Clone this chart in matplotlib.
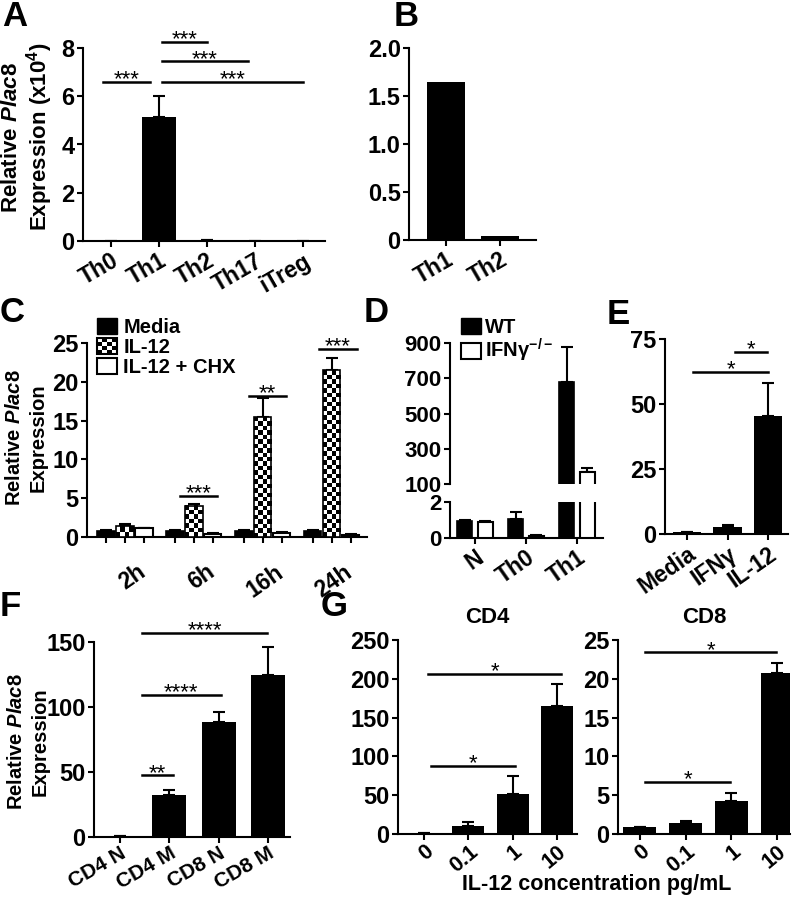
import numpy as np
import matplotlib
matplotlib.use('Agg')
import matplotlib.pyplot as plt
from matplotlib.patches import Rectangle, Patch
from matplotlib.legend_handler import HandlerBase

# ---- data ----
# A
a_cats = ['Th0', 'Th1', 'Th2', 'Th17', 'iTreg']
a_vals = [0.002, 5.15, 0.03, 0.005, 0.003]
a_err = [0.0, 0.85, 0.0, 0.0, 0.0]
# B
b_cats = ['Th1', 'Th2']
b_vals = [1.65, 0.045]
# C
c_times = ['2h', '6h', '16h', '24h']
c_media = [0.8, 0.8, 0.8, 0.8]
c_media_err = [0.05, 0.05, 0.05, 0.05]
c_il12 = [1.4, 4.0, 15.4, 21.5]
c_il12_err = [0.25, 0.3, 2.5, 1.6]
c_chx = [1.1, 0.4, 0.5, 0.3]
c_chx_err = [0.1, 0.1, 0.1, 0.05]
# D
d_cats = ['N', 'Th0', 'Th1']
d_wt = [0.95, 1.05, 680]
d_wt_err = [0.03, 0.4, 200]
d_ko = [0.9, 0.1, 170]
d_ko_err = [0.03, 0.08, 20]
# E
e_cats = ['Media', 'IFNγ', 'IL-12']
e_vals = [0.8, 2.7, 45.5]
e_err = [0.1, 0.6, 12.5]
# F
f_cats = ['CD4 N', 'CD4 M', 'CD8 N', 'CD8 M']
f_vals = [1.0, 32, 88.5, 125]
f_err = [0.0, 4.5, 8.0, 21]
# G
g_cats = ['0', '0.1', '1', '10']
g_cd4 = [1.0, 10, 52, 165]
g_cd4_err = [0.0, 6, 23, 28]
g_cd8 = [0.9, 1.4, 4.2, 20.7]
g_cd8_err = [0.05, 0.3, 1.1, 1.4]

plt.rcParams['font.family'] = 'Liberation Sans'
plt.rcParams['font.weight'] = 'bold'
plt.rcParams['mathtext.fontset'] = 'custom'
plt.rcParams['mathtext.rm'] = 'Liberation Sans:bold'
plt.rcParams['mathtext.bf'] = 'Liberation Sans:bold'
plt.rcParams['mathtext.it'] = 'Liberation Sans:bold:italic'
plt.rcParams['mathtext.default'] = 'bf'
plt.rcParams['axes.linewidth'] = 1.5
plt.rcParams['xtick.major.width'] = 1.5
plt.rcParams['ytick.major.width'] = 1.5
plt.rcParams['xtick.major.size'] = 4
plt.rcParams['ytick.major.size'] = 4
plt.rcParams['xtick.labelsize'] = 16.5
plt.rcParams['ytick.labelsize'] = 17

W, H = 800, 897
fig = plt.figure(figsize=(8, 8.97), dpi=100)


def box(x0, x1, ytop, ybot):
    return [x0 / W, 1 - ybot / H, (x1 - x0) / W, (ybot - ytop) / H]


def style(ax, cats=None, rot=35, fs=16.5):
    ax.spines['top'].set_visible(False)
    ax.spines['right'].set_visible(False)
    ax.tick_params(direction='out', pad=2)
    if cats is not None:
        ax.set_xticks(range(len(cats)))
        ax.set_xticklabels(cats, rotation=rot, ha='right', rotation_mode='anchor',
                           fontsize=fs)


def errs(ax, x, v, e):
    ax.errorbar(x, v, yerr=[np.zeros(len(e)), e], fmt='none', ecolor='black',
                elinewidth=1.5, capsize=4, capthick=1.5, zorder=2)


def sig(ax, x0, x1, y, txt, fs=16):
    ax.plot([x0, x1], [y, y], color='black', lw=1.8, clip_on=False)
    ax.annotate(txt, ((x0 + x1) / 2, y), xytext=(0, -2.5), textcoords='offset points',
                ha='center', va='baseline', fontsize=fs, fontweight='normal',
                annotation_clip=False)


def checker_bar(ax, x, w, h, cell=4.5):
    p0 = ax.transData.transform((x - w / 2, 0))
    p1 = ax.transData.transform((x + w / 2, h))
    nx = max(1, int(round(abs(p1[0] - p0[0]) / cell)))
    ny = max(1, int(round(abs(p1[1] - p0[1]) / cell)))
    arr = np.indices((ny, nx)).sum(axis=0) % 2
    ax.imshow(arr, extent=(x - w / 2, x + w / 2, 0, h), cmap='gray', origin='lower',
              interpolation='nearest', aspect='auto', zorder=3)
    ax.bar(x, h, w, fill=False, edgecolor='black', lw=1.2, zorder=4)


class CheckerHandler(HandlerBase):
    def create_artists(self, legend, orig, xd, yd, w, h, fs, trans):
        arts = [Rectangle((-xd, -yd), w, h, fc='white', ec='black', lw=1.5, transform=trans)]
        n = 4
        cw, ch = w / n, h / n
        for i in range(n):
            for j in range(n):
                if (i + j) % 2 == 0:
                    arts.append(Rectangle((-xd + i * cw, -yd + j * ch), cw, ch,
                                          fc='black', ec='none', transform=trans))
        return arts


def letter(x, y, s):
    fig.text(x / W, 1 - y / H, s, fontsize=25, ha='left', va='top')


def ylab(x, y, s, fs=14.5, ls=1.3):
    fig.text(x / W, 1 - y / H, s, fontsize=fs, rotation=90, ha='center', va='center',
             multialignment='center', linespacing=ls)


# ---- A ----
ax = fig.add_axes(box(83, 325, 48, 241))
xa = np.arange(len(a_cats))
ax.bar(xa, a_vals, 0.7, color='black', zorder=3)
errs(ax, xa, a_vals, a_err)
ax.set_xlim(-0.58, 4.45)
ax.set_ylim(0, 8)
ax.set_yticks([0, 2, 4, 6, 8])
style(ax, a_cats, rot=30)
sig(ax, -0.17, 0.81, 6.6, '***')
sig(ax, 1.06, 2.0, 8.25, '***')
sig(ax, 1.06, 2.85, 7.45, '***')
sig(ax, 1.06, 4.0, 6.6, '***')
ylab(28, 137, 'Relative $\\mathit{Plac8}$\nExpression (x10$^{4}$)', fs=16, ls=1.05)
letter(2, 0, 'A')

# ---- B ----
ax = fig.add_axes(box(409, 536, 48, 240))
xb = np.arange(len(b_cats))
ax.bar(xb, b_vals, 0.7, color='black', zorder=3)
ax.set_xlim(-0.685, 1.667)
ax.set_ylim(0, 2)
ax.set_yticks([0, 0.5, 1.0, 1.5, 2.0])
ax.set_yticklabels(['0', '0.5', '1.0', '1.5', '2.0'])
style(ax, b_cats, rot=30)
letter(394, 0, 'B')

# ---- C ----
ax = fig.add_axes(box(87, 367, 343, 537))
xc = np.arange(len(c_times))
ax.set_xlim(-0.55, 3.51)
ax.set_ylim(0, 25)
off, bw = 0.275, 0.25
ax.bar(xc - off, c_media, bw, color='black', edgecolor='black', lw=1.2, zorder=3)
for x, v in zip(xc, c_il12):
    checker_bar(ax, x, bw, v)
ax.bar(xc + off, c_chx, bw, color='white', edgecolor='black', lw=1.5, zorder=3)
errs(ax, xc - off, c_media, c_media_err)
errs(ax, xc, c_il12, c_il12_err)
errs(ax, xc + off, c_chx, c_chx_err)
ax.set_xlim(-0.55, 3.51)
ax.set_ylim(0, 25)
ax.set_xticks(np.concatenate([xc - off, xc, xc + off]))
ax.set_xticklabels([''] * 12)
for x, t in zip(xc, c_times):
    ax.text(x + 0.17, -3.0, t, rotation=35, ha='right', va='top', rotation_mode='anchor',
            fontsize=16.5)
ax.set_yticks([0, 5, 10, 15, 20, 25])
style(ax)
sig(ax, 0.8, 1.34, 5.3, '***')
sig(ax, 1.8, 2.34, 18.2, '**')
sig(ax, 2.81, 3.36, 24.2, '***')
hl = [Patch(fc='black', ec='black'), Patch(fc='white', ec='black'),
      Patch(fc='white', ec='black', lw=1.5)]
chk = hl[1]
ax.legend(hl, ['Media', 'IL-12', 'IL-12 + CHX'], loc='upper left',
          bbox_to_anchor=(97 / W, 1 - 318 / H), bbox_transform=fig.transFigure,
          frameon=False, fontsize=14.5, handlelength=1.0, handleheight=0.78,
          handletextpad=0.3, labelspacing=0.05, borderpad=0, borderaxespad=0,
          handler_map={chk: CheckerHandler()})
ylab(26, 438, 'Relative $\\mathit{Plac8}$\nExpression')
letter(0, 296, 'C')

# ---- D ----
axt = fig.add_axes(box(450, 603, 343, 484))
axb = fig.add_axes(box(450, 603, 502, 538))
xd = np.arange(len(d_cats))
for a in (axt, axb):
    a.bar(xd - 0.2, d_wt, 0.29, color='black', edgecolor='black', lw=1.2, zorder=3)
    a.bar(xd + 0.2, d_ko, 0.29, color='white', edgecolor='black', lw=1.5, zorder=3)
    errs(a, xd - 0.2, d_wt, d_wt_err)
    errs(a, xd + 0.2, d_ko, d_ko_err)
    a.set_xlim(-0.49, 2.51)
    a.spines['top'].set_visible(False)
    a.spines['right'].set_visible(False)
    a.tick_params(direction='out', pad=2, labelsize=16)
axt.set_ylim(100, 900)
axt.set_yticks([100, 300, 500, 700, 900])
axt.spines['bottom'].set_visible(False)
axt.set_xticks([])
axb.set_ylim(0, 2)
axb.set_yticks([0, 2])
axb.set_xticks(xd)
axb.set_xticklabels(d_cats, rotation=35, ha='right', rotation_mode='anchor',
                    fontsize=16.5)
axt.legend([Patch(fc='black', ec='black'), Patch(fc='white', ec='black', lw=1.5)],
           ['WT', 'IFNγ$^{-/-}$'], loc='upper left',
           bbox_to_anchor=(461 / W, 1 - 318 / H), bbox_transform=fig.transFigure,
           frameon=False, fontsize=14.5, handlelength=1.0, handleheight=0.85,
           handletextpad=0.2, labelspacing=0.0, borderpad=0, borderaxespad=0)
letter(364, 296, 'D')

# ---- E ----
ax = fig.add_axes(box(665, 788, 339, 534))
xe = np.arange(len(e_cats))
ax.bar(xe, e_vals, 0.7, color='black', zorder=3)
errs(ax, xe, e_vals, e_err)
ax.set_xlim(-0.54, 2.49)
ax.set_ylim(0, 75)
ax.set_yticks([0, 25, 50, 75])
style(ax, e_cats)
sig(ax, 0.15, 2.0, 62.5, '*')
sig(ax, 1.19, 1.98, 70, '*')
letter(607, 298, 'E')

# ---- F ----
ax = fig.add_axes(box(94, 290, 642, 837))
xf = np.arange(len(f_cats))
ax.bar(xf, f_vals, 0.69, color='black', zorder=3)
errs(ax, xf, f_vals, f_err)
ax.set_xlim(-0.53, 3.45)
ax.set_ylim(0, 150)
ax.set_yticks([0, 50, 100, 150])
style(ax, f_cats, rot=30, fs=15)
ax.tick_params(axis='x', pad=1)
sig(ax, 0.45, 1.07, 47.5, '**')
sig(ax, 0.45, 2.04, 109.5, '****')
sig(ax, 0.45, 2.99, 157, '****')
ylab(28, 742, 'Relative $\\mathit{Plac8}$\nExpression')
letter(0, 590, 'F')

# ---- G ----
ax = fig.add_axes(box(398, 577, 640, 834))
xg = np.arange(len(g_cats))
ax.bar(xg, g_cd4, 0.72, color='black', zorder=3)
errs(ax, xg, g_cd4, g_cd4_err)
ax.set_xlim(-0.59, 3.45)
ax.set_ylim(0, 250)
ax.set_yticks([0, 50, 100, 150, 200, 250])
style(ax, g_cats, rot=40, fs=15.5)
ax.tick_params(axis='x', pad=1)
sig(ax, 0.16, 2.05, 88, '*')
sig(ax, 0.09, 3.1, 206, '*')
ax.set_title('CD4', fontsize=16, fontweight='bold', pad=12)

ax = fig.add_axes(box(618, 790, 640, 834))
ax.bar(xg, g_cd8, 0.72, color='black', zorder=3)
errs(ax, xg, g_cd8, g_cd8_err)
ax.set_xlim(-0.48, 3.28)
ax.set_ylim(0, 25)
ax.set_yticks([0, 5, 10, 15, 20, 25])
style(ax, g_cats, rot=40, fs=15.5)
ax.tick_params(axis='x', pad=1)
sig(ax, 0.11, 1.97, 6.7, '*')
sig(ax, 0.11, 2.98, 23.4, '*')
ax.set_title('CD8', fontsize=16, fontweight='bold', pad=12)
fig.text(597 / W, 1 - 884 / H, 'IL-12 concentration pg/mL', fontsize=15.5,
         ha='center', va='center')
letter(321, 590, 'G')

fig.savefig('out.png', dpi=100)
